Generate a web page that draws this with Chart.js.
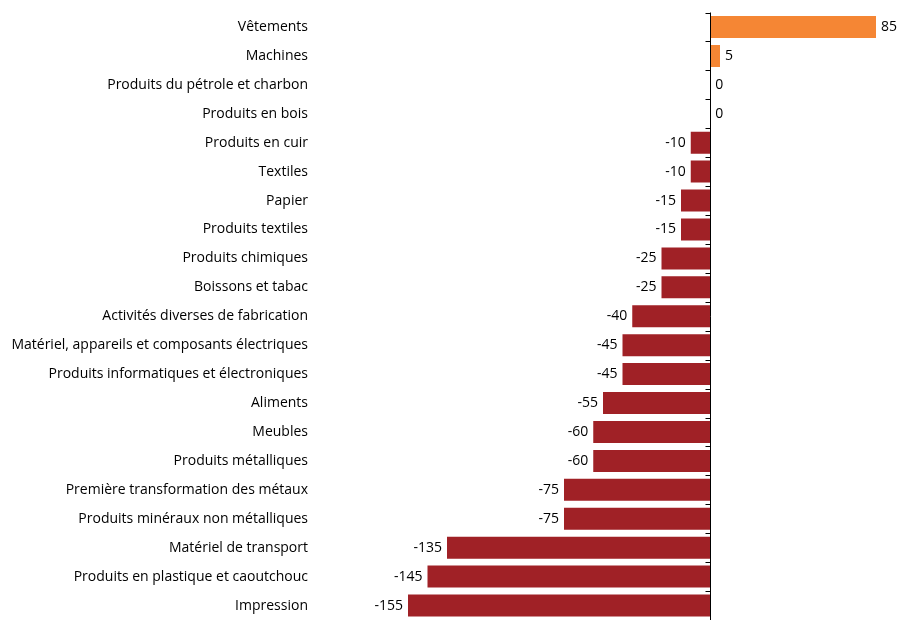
<!DOCTYPE html>
<html>
<head>
<meta charset="utf-8">
<script src="https://cdn.jsdelivr.net/npm/chart.js@4/dist/chart.umd.min.js"></script>
<style>
  html, body { margin: 0; padding: 0; background: #fff; overflow: hidden; }
  canvas { display: block; }
</style>
</head>
<body>
<canvas id="chart" width="899" height="620"></canvas>
<script>
// data //
const categories = [
  'Vêtements', 'Machines', 'Produits du pétrole et charbon', 'Produits en bois',
  'Produits en cuir', 'Textiles', 'Papier', 'Produits textiles', 'Produits chimiques',
  'Boissons et tabac', 'Activités diverses de fabrication',
  'Matériel, appareils et composants électriques',
  'Produits informatiques et électroniques', 'Aliments', 'Meubles',
  'Produits métalliques', 'Première transformation des métaux',
  'Produits minéraux non métalliques', 'Matériel de transport',
  'Produits en plastique et caoutchouc', 'Impression'
];
const values = [85, 5, 0, 0, -10, -10, -15, -15, -25, -25, -40, -45, -45, -55, -60, -60, -75, -75, -135, -145, -155];

const orange = 'rgb(245, 134, 52)';
const darkRed = 'rgb(160, 33, 38)';
const labelFont = '14px "Open Sans", sans-serif';

// axis line at zero with little ticks between the bars
const zeroAxis = {
  id: 'zeroAxis',
  afterDatasetsDraw(chart) {
    const ctx = chart.ctx;
    const x = Math.round(chart.scales.x.getPixelForValue(0)) + 0.5;
    const y = chart.scales.y;
    const half = (y.getPixelForValue(1) - y.getPixelForValue(0)) / 2;
    ctx.save();
    ctx.strokeStyle = '#000';
    ctx.lineWidth = 1;
    ctx.beginPath();
    ctx.moveTo(x, y.getPixelForValue(0) - half);
    ctx.lineTo(x, y.getPixelForValue(categories.length - 1) + half);
    for (let i = 0; i <= categories.length; i++) {
      const ty = Math.round(y.getPixelForValue(i) - half) + 0.5;
      ctx.moveTo(x - 5, ty);
      ctx.lineTo(x, ty);
    }
    ctx.stroke();
    ctx.restore();
  }
};

// value labels at the end of each bar
const barLabels = {
  id: 'barLabels',
  afterDatasetsDraw(chart) {
    const ctx = chart.ctx;
    const meta = chart.getDatasetMeta(0);
    ctx.save();
    ctx.font = labelFont;
    ctx.fillStyle = '#000';
    ctx.textBaseline = 'middle';
    meta.data.forEach((bar, i) => {
      const v = values[i];
      if (v < 0) {
        ctx.textAlign = 'right';
        ctx.fillText(String(v), bar.x - 5, bar.y);
      } else {
        ctx.textAlign = 'left';
        ctx.fillText(String(v), bar.x + 5, bar.y);
      }
    });
    ctx.restore();
  }
};

new Chart('chart', {
  type: 'bar',
  data: {
    labels: categories,
    datasets: [{
      data: values,
      backgroundColor: values.map(v => v >= 0 ? orange : darkRed),
      borderWidth: 0,
      barPercentage: 0.76,
      categoryPercentage: 1
    }]
  },
  options: {
    indexAxis: 'y',
    responsive: false,
    animation: false,
    layout: { padding: { top: 12.5, right: 23, bottom: -2, left: 0 } },
    plugins: {
      legend: { display: false },
      tooltip: { enabled: false }
    },
    scales: {
      x: {
        display: false,
        min: -155,
        max: 85
      },
      y: {
        grid: { display: false, drawTicks: false },
        border: { display: false },
        ticks: {
          padding: 100,
          color: '#000',
          font: { family: '"Open Sans", sans-serif', size: 14 }
        },
        afterFit(scale) {
          scale.width = 408;
          scale.paddingTop = 0;
          scale.paddingBottom = 0;
        }
      }
    }
  },
  plugins: [zeroAxis, barLabels]
});
</script>
</body>
</html>
